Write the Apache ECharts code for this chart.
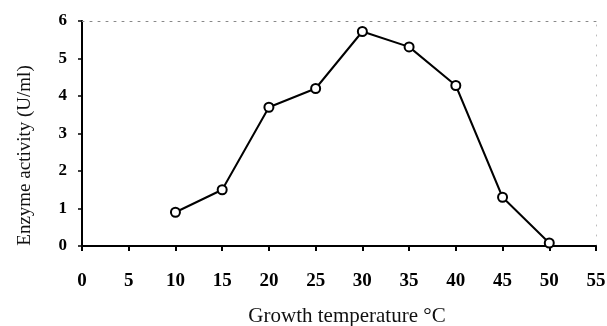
<!DOCTYPE html>
<html><head><meta charset="utf-8">
<script src="https://cdn.jsdelivr.net/npm/echarts@6/dist/echarts.min.js"></script>
<style>html,body{margin:0;padding:0;background:#fff}#c{width:607px;height:326px}</style>
</head><body><div id="c"></div>
<script>
const temperatures = [10, 15, 20, 25, 30, 35, 40, 45, 50];
const activity = [0.9, 1.5, 3.7, 4.2, 5.72, 5.31, 4.28, 1.3, 0.08];
const xTitle = 'Growth temperature \u00B0C';
const yTitle = 'Enzyme activity (U/ml)';
const font = 'Liberation Serif';
const chart = echarts.init(document.getElementById('c'));
chart.setOption({
  animation: false,
  backgroundColor: '#fff',
  grid: {left: 82, right: 11, top: 21, bottom: 80, containLabel: false, outerBoundsMode: 'none'},
  xAxis: [{
    type: 'value', min: 0, max: 55, interval: 5,
    name: xTitle, nameLocation: 'middle', nameGap: 60,
    nameTextStyle: {fontFamily: font, fontSize: 21, color: '#111', padding: [0, 0, 0, 16]},
    axisLine: {onZero: false, lineStyle: {color: '#000', width: 2}},
    axisTick: {show: true, length: 5, lineStyle: {color: '#000', width: 2}},
    axisLabel: {fontFamily: font, fontSize: 19, fontWeight: 'bold', color: '#000', margin: 26},
    splitLine: {show: false}
  }, {
    type: 'value', min: 0, max: 55, interval: 5, position: 'top',
    axisLine: {show: true, onZero: false, lineStyle: {color: '#888', width: 1, type: [2, 6]}},
    axisTick: {show: false}, axisLabel: {show: false}, splitLine: {show: false}
  }],
  yAxis: [{
    type: 'value', min: 0, max: 6, interval: 1,
    name: yTitle, nameLocation: 'middle', nameGap: 47, nameRotate: 90,
    nameTextStyle: {fontFamily: font, fontSize: 19, color: '#111', padding: [0, 44, 0, 0]},
    axisLine: {show: true, onZero: false, lineStyle: {color: '#000', width: 2}},
    axisTick: {show: true, length: 4, lineStyle: {color: '#000', width: 1.5}},
    axisLabel: {fontFamily: font, fontSize: 17, fontWeight: 'bold', color: '#000', margin: 15},
    splitLine: {show: false}
  }, {
    type: 'value', min: 0, max: 6, interval: 1, position: 'right',
    axisLine: {show: true, onZero: false, lineStyle: {color: '#bbb', width: 1, type: [1, 9]}},
    axisTick: {show: false}, axisLabel: {show: false}, splitLine: {show: false}
  }],
  series: [{
    type: 'line',
    data: temperatures.map((t, i) => [t, activity[i]]),
    symbol: 'circle', symbolSize: 9,
    lineStyle: {color: '#000', width: 2},
    itemStyle: {color: '#fff', borderColor: '#000', borderWidth: 2}
  }]
});
</script></body></html>
